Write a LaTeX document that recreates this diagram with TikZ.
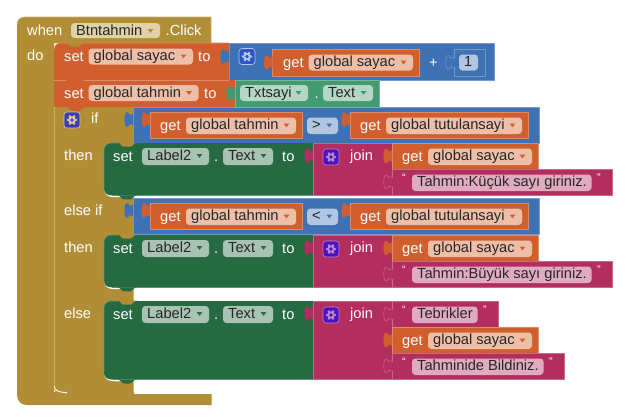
\documentclass[tikz,border=0pt]{standalone}
\usepackage{fontspec}
\setmainfont{Liberation Sans}
\definecolor{gold}{HTML}{B18E35}
\definecolor{goldF}{HTML}{E0D1A9}
\definecolor{orng}{HTML}{D05F2D}
\definecolor{orngF}{HTML}{EDBFA9}
\definecolor{blu}{HTML}{3F71B5}
\definecolor{bluF}{HTML}{B2C6E1}
\definecolor{grn}{HTML}{439970}
\definecolor{grnF}{HTML}{B3D6C5}
\definecolor{dgrn}{HTML}{266A42}
\definecolor{dgrnF}{HTML}{A8C3B3}
\definecolor{mag}{HTML}{B32D5E}
\definecolor{magF}{HTML}{E1ABBF}
\newcounter{lblno}
\tikzset{
  lbl/.style={anchor=base west,inner sep=0pt,font=\fontsize{14.67}{16}\selectfont},
  wlbl/.style={lbl,text=white},
  blkbox/.style={line width=0.7pt,line join=round}
}
% block: x1 y1 x2 y2 colour
\newcommand{\blk}[5]{\fill[#5] (#1,#2) rectangle (#3,#4);
  \draw[blkbox,draw=#5!72!white] (#1,#4) -- (#1,#2) -- (#3,#2) -- (#3,#4) -- cycle;}
% white label: x baseline text
\newcommand{\wt}[3]{\stepcounter{lblno}\node[wlbl] (t\arabic{lblno}) at (#1,#2) {#3};}
% field: x1 y1 x2 y2 fill text arrow-colour
\newcommand{\fld}[7]{\fill[#5,rounded corners=3.5pt] (#1,#2) rectangle (#3,#4);
  \stepcounter{lblno}\node[lbl,text=black!85] (t\arabic{lblno}) at ({#1+5},{#2+12.2}) {#6};
  \fill[#7] ({#3-12.3},{#2+6.2}) -- ({#3-6.7},{#2+6.2}) -- ({#3-9.5},{#2+9.8}) -- cycle;}
\newcommand{\fldn}[6]{\fill[#5,rounded corners=3.5pt] (#1,#2) rectangle (#3,#4);
  \stepcounter{lblno}\node[lbl,text=black!85] (t\arabic{lblno}) at ({#1+5},{#2+12.2}) {#6};}
% tab downward
\newcommand{\notch}[3]{\fill[#3] ({#1-10},#2) .. controls ({#1-6},#2) and ({#1-6},{#2+4}) .. ({#1-3},{#2+4}) -- ({#1+3},{#2+4}) .. controls ({#1+6},{#2+4}) and ({#1+6},#2) .. ({#1+10},#2) -- cycle;}
% puzzle plug: right x, top y, fill, edge
\newcommand{\plug}[4]{\path[fill=#3,draw=#4,line width=0.5pt] (#1,{#2+1}) -- ({#1-3},{#2+2.5}) .. controls ({#1-4},{#2+1}) and ({#1-5},{#2-0.5}) .. ({#1-6},{#2-0.5}) .. controls ({#1-9},{#2-0.5}) and ({#1-9},{#2+13.5}) .. ({#1-6},{#2+13.5}) .. controls ({#1-5},{#2+13.5}) and ({#1-4},{#2+12}) .. ({#1-3},{#2+10.5}) -- (#1,{#2+12});}
% gear icon: x1 y1 box gear
\newcommand{\gear}[4]{\fill[#3,rounded corners=3pt] (#1,#2) rectangle ({#1+16},{#2+16});
  \draw[#4,line width=0.6pt,rounded corners=3pt] (#1,#2) rectangle ({#1+16},{#2+16});
  \foreach \a in {0,60,...,300}{\fill[#4] ({#1+8+3.9*cos(\a)},{#2+8+3.9*sin(\a)}) circle (1.5);}
  \fill[#4] ({#1+8},{#2+8}) circle (3.7);
  \fill[#3] ({#1+8},{#2+8}) circle (1.8);}
% green set + join row: y top
\newcommand{\setrow}[1]{
  \wt{113}{#1+18.3}{set}
  \fld{142}{#1+5}{209}{#1+22}{dgrnF}{Label2}{dgrn}
  \wt{214}{#1+18.3}{.}
  \fld{223}{#1+5}{273}{#1+22}{dgrnF}{Text}{dgrn}
  \wt{282}{#1+18.3}{to}
  \gear{323}{#1+6}{joinbox}{joingear}
  \wt{350}{#1+17.8}{join}
}
\newcommand{\getsayac}[1]{
  \blk{392}{#1}{538}{#1+26}{orng}
  \plug{392}{#1+6.5}{orng}{orng}
  \wt{402}{#1+18}{get}
  \fld{428}{#1+5.5}{532}{#1+22}{orngF}{global sayac}{orng}
}
\newcommand{\strblk}[3]{% y, right edge x, field text ; field right = x-21
  \blk{392}{#1}{#2}{#1+26.4}{mag}
  \plug{392}{#1+6.5}{mag}{mag!70!white}
  \fill[mag] (391,{#1+8.5}) rectangle (393,{#1+17.5});
  \stepcounter{lblno}\node[wlbl,font=\fontsize{11}{12}\selectfont] (t\arabic{lblno}) at (402,{#1+12.5}) {“};
  \fldn{412}{#1+5.5}{#2-20.4}{#1+22}{magF}{#3}
  \stepcounter{lblno}\node[wlbl,font=\fontsize{11}{12}\selectfont] (t\arabic{lblno}) at ({#2-15},{#1+12.5}) {”};
}
\newcommand{\cond}[2]{% y top, operator
  \blk{133}{#1}{539}{#1+36.6}{blu}
  \plug{133}{#1+6}{blu}{blu}
  \blk{150}{#1+5}{302}{#1+31}{orng}
  \plug{150}{#1+6}{orng}{orng}
  \wt{160}{#1+23.3}{get}
  \fld{186}{#1+10.5}{296}{#1+27}{orngF}{global tahmin}{orng}
  \fill[bluF,rounded corners=3.5pt] (307,{#1+10.5}) rectangle (338,{#1+27});
  \stepcounter{lblno}\node[lbl,text=black!85] (t\arabic{lblno}) at (312,{#1+22.5}) {#2};
  \fill[blu] (326.5,{#1+16.7}) -- (332,{#1+16.7}) -- (329.2,{#1+20.3}) -- cycle;
  \blk{350}{#1+5}{528}{#1+31}{orng}
  \plug{350}{#1+6}{orng}{orng}
  \wt{360}{#1+23.3}{get}
  \fld{386}{#1+10.5}{522}{#1+27}{orngF}{global tutulansayi}{orng}
}
\newcommand{\statement}[2]{% y1 y2: green block with white rim at lower left
  \path[draw=white,line width=1.6pt] (105,{#2-7}) .. controls (105,{#2-1}) and (108,{#2+1}) .. (116,{#2+1}) -- (134,{#2+1});
  \fill[dgrn] (104,{#1+7}) .. controls (104,{#1+3}) and (107,#1) .. (111,#1) -- (313,#1) -- (313,#2) -- (112,#2) .. controls (106,#2) and (104,{#2-3}) .. (104,{#2-8}) -- cycle;
  \draw[dgrn!72!white,line width=0.6pt] (104,{#2-8}) -- (104,{#1+7}) .. controls (104,{#1+3}) and (107,#1) .. (111,#1) -- (117,#1);
  \draw[dgrn!72!white,line width=0.6pt] (112,#2) -- (313,#2);
  \notch{127}{#1-0.3}{gold}
  \notch{127}{#2}{dgrn}
}
\definecolor{joinbox}{HTML}{4E12BE}
\definecolor{joingear}{HTML}{B886D0}
\definecolor{ifbox}{HTML}{3F3DAE}
\definecolor{ifgear}{HTML}{D8C9A0}
\definecolor{addbox}{HTML}{2B55C8}
\definecolor{addgear}{HTML}{B5C8E8}
\begin{document}
\begin{tikzpicture}[x=1pt,y=-1pt]
\path[use as bounding box,fill=white] (0,0) rectangle (634,416);
% event block
\fill[gold] (25,17) -- (211,17) -- (211,43) -- (54,43) -- (54,394) -- (211,394) -- (211,405) -- (27,405)
  .. controls (21,405) and (17,401) .. (17,395) -- (17,25) .. controls (17,20) and (20,17) .. (25,17) -- cycle;
\draw[gold!72!white,line width=0.6pt] (17,25) .. controls (17,20) and (20,17) .. (25,17) -- (211,17) -- (211,43);
\draw[gold!72!white,line width=0.6pt] (211,394) -- (211,405);
\wt{27}{35}{when}
\fld{71}{23}{160}{38}{goldF}{Btntahmin}{gold}
\wt{165.5}{35}{.Click}
\wt{27}{60}{do}
% if block
\fill[gold] (54,107) -- (133.5,107) -- (133.5,393) -- (60,393) .. controls (56,393) and (54,391) .. (54,387) -- cycle;
\draw[gold!72!white,line width=0.6pt] (54,107) -- (54,385);
\fill[gold] (54.4,392) rectangle (133.5,394.5);
\draw[white,line width=0.9pt] (54.4,386) .. controls (54.4,390) and (57,392.3) .. (67,392.6);
\notch{77}{393}{gold}
\fill[gold] (67,393) rectangle (133.5,394.5);
% if labels
\gear{64}{112}{ifbox}{ifgear}
\wt{91}{123.5}{if}
\wt{64}{160}{then}
\wt{64}{215.5}{else if}
\wt{64}{252}{then}
\wt{64}{318}{else}
% first conditions
\cond{107}{>}
\cond{198}{<}
% statements
\statement{143}{195.4}
\statement{235}{287.4}
\statement{301}{379.5}
% first row
\blk{229}{43}{494}{80.3}{blu}
\fill[orng] (54,52) -- (54,50) .. controls (54,46) and (57,43) .. (61,43) -- (229,43) -- (229,80.3) -- (54,80.3) -- cycle;
\draw[orng!72!white,line width=0.6pt] (54,50) .. controls (54,46) and (57,43) .. (61,43) -- (229,43);
\plug{229}{50}{blu}{blu}
\notch{75}{42.7}{gold}
\wt{64}{61}{set}
\fld{88.5}{48.5}{193}{64.5}{orngF}{global sayac}{orng}
\wt{198}{61}{to}
\gear{239}{48.5}{addbox}{addgear}
\blk{272.5}{49.5}{419}{76}{orng}
\plug{272.5}{56}{orng}{orng}
\wt{283}{67}{get}
\fld{308.5}{54.5}{413}{70.5}{orngF}{global sayac}{orng}
\wt{429}{67}{+}
\blk{454}{49.5}{485}{76}{blu}
\plug{454}{56}{blu}{blu!70!white}
\fill[blu] (453,58.5) rectangle (455,66.5);
\fldn{459}{54.5}{478}{70.5}{bluF}{1}
% second row
\blk{235}{80}{379}{107}{grn}
\fill[orng] (54,80) rectangle (235,107);
\draw[orng!72!white,line width=0.6pt] (54,80.3) -- (229,80.3);
\plug{235}{87}{grn}{grn}
\notch{75}{80}{orng}
\notch{76}{107}{orng}
\wt{64}{98}{set}
\fld{88.5}{85}{198.5}{101}{orngF}{global tahmin}{orng}
\wt{204}{98}{to}
\fld{240}{85}{308}{101}{grnF}{Txtsayi}{grn}
\wt{314.5}{98}{.}
\fld{323}{85}{373}{101}{grnF}{Text}{grn}
% right of statements: join blocks
\blk{313}{143}{392}{195.4}{mag}
\setrow{143}
\plug{313}{149}{mag}{mag}
\getsayac{143}
\strblk{169}{612}{Tahmin:Küçük sayı giriniz.}
\blk{313}{235}{392}{287.4}{mag}
\setrow{235}
\plug{313}{241}{mag}{mag}
\getsayac{235}
\strblk{261}{612}{Tahmin:Büyük sayı giriniz.}
\blk{313}{301}{392}{379.5}{mag}
\setrow{301}
\plug{313}{307}{mag}{mag}
\strblk{301}{498}{Tebrikler}
\getsayac{327}
\strblk{353}{564}{Tahminide Bildiniz.}
\end{tikzpicture}
\end{document}
